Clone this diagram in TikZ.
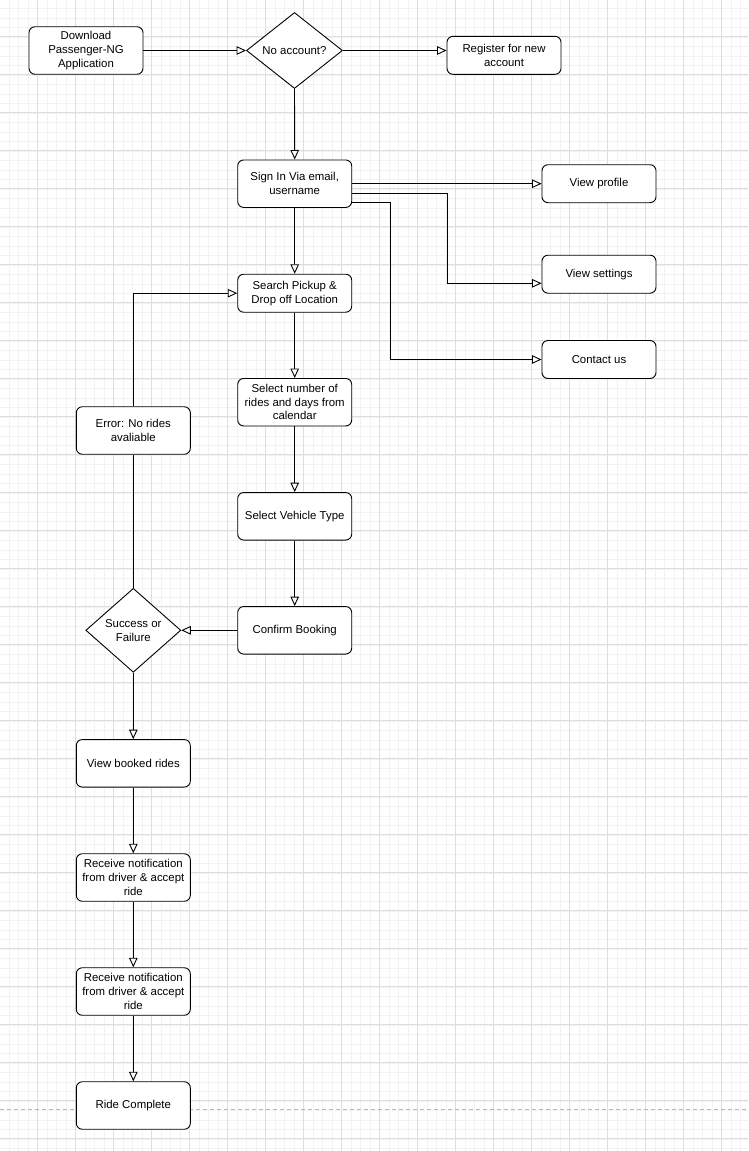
\documentclass[tikz,border=0pt]{standalone}
\usepackage{fontspec}
\setmainfont{Liberation Sans}
\usepackage{tikz}
\usetikzlibrary{positioning,arrows.meta,shapes.geometric}
\definecolor{gridminor}{HTML}{F2F2F2}
\definecolor{gridmajor}{HTML}{DEDEDE}
\definecolor{pagebreak}{HTML}{B8B8B8}

\begin{document}
\begin{tikzpicture}[
    x=1pt, y=-1pt,
    every node/.style={font=\fontsize{11.4}{13.7}\selectfont, align=center},
    box/.style={draw, fill=white, rounded corners=6pt, line width=0.9pt,
                minimum width=114pt, minimum height=38pt, inner sep=2pt},
    tall/.style={box, minimum height=47.5pt},
    dec/.style={draw, fill=white, diamond, line width=0.9pt, inner sep=0pt},
    arr/.style={line width=0.9pt, -{Triangle[length=9.5pt, width=8.5pt, fill=white]}},
    ln/.style={line width=0.9pt},
    minorl/.style={gridminor, line width=0.6pt},
    majorl/.style={gridmajor, line width=0.8pt}
  ]

  \useasboundingbox (0,0) rectangle (748,1151);
  \clip (0,0) rectangle (748,1151);

  % ---- grille de fond ----------------------------------------------------
  \fill[white] (0,0) rectangle (748,1151);
  \foreach \k in {-3,...,75} {
    \draw[minorl] ({37.4+9.5*\k},0) -- ({37.4+9.5*\k},1151);
  }
  \foreach \k in {-3,...,117} {
    \draw[minorl] (0,{36.8+9.5*\k}) -- (748,{36.8+9.5*\k});
  }
  \foreach \k in {0,...,18} {
    \draw[majorl] ({37.4+38*\k},0) -- ({37.4+38*\k},1151);
  }
  \foreach \k in {-1,...,29} {
    \draw[majorl] (0,{36.8+38*\k}) -- (748,{36.8+38*\k});
  }
  \draw[pagebreak, line width=0.8pt, dash pattern=on 4pt off 3pt] (0,1109) -- (748,1109);

  % ---- ligne du haut -----------------------------------------------------
  \node[tall] (download) at (86,50.5) {Download\\Passenger-NG\\Application};
  \node[dec, minimum width=96pt, minimum height=76pt] (noacc) at (294.5,50.5) {No account?};
  \node[box] (register) at (504,55.3) {Register for new\\account};

  % ---- colonne principale ------------------------------------------------
  \node[tall] (signin) at (294.7,183.7) {Sign In Via email,\\username};
  \node[box] (search) at (294.7,293.2) {Search Pickup \&\\Drop off Location};
  \node[tall] (selnum) at (294.7,402.2) {Select number of\\rides and days from\\calendar};
  \node[tall] (vehicle) at (294.7,516.3) {Select Vehicle Type};
  \node[tall] (confirm) at (294.7,630.3) {Confirm Booking};

  % ---- menu a droite -----------------------------------------------------
  \node[box] (profile) at (599,183.7) {View profile};
  \node[box] (settings) at (599,274.2) {View settings};
  \node[box] (contact) at (599,359.5) {Contact us};

  % ---- colonne de gauche -------------------------------------------------
  \node[tall] (error) at (133.3,430.5) {Error: No rides\\avaliable};
  \node[dec, minimum width=95pt, minimum height=84pt] (result) at (133.3,630.3) {Success or\\Failure};
  \node[tall] (booked) at (133.3,763.3) {View booked rides};
  \node[tall] (notifa) at (133.3,877.5) {Receive notification\\from driver \& accept\\ride};
  \node[tall] (notifb) at (133.3,991.5) {Receive notification\\from driver \& accept\\ride};
  \node[tall] (done) at (133.3,1105.5) {Ride Complete};

  % ---- connexions --------------------------------------------------------
  \coordinate (menub) at (352,193.3);
  \coordinate (menuc) at (352,202.7);
  \draw[arr] (download.east) -- (noacc.west);
  \draw[arr] (noacc.east) -- (register.west |- noacc.east);
  \draw[arr] (noacc.south) -- (signin.north);
  \draw[arr] (signin.east) -- (profile.west);
  \draw[arr] (menub) -- (447.3,193.3) |- ([yshift=-9.1pt]settings.west);
  \draw[arr] (menuc) -- (390,202.7) |- (contact.west);
  \draw[arr] (signin.south) -- (search.north);
  \draw[arr] (search.south) -- (selnum.north);
  \draw[arr] (selnum.south) -- (vehicle.north);
  \draw[arr] (vehicle.south) -- (confirm.north);
  \draw[arr] (confirm.west) -- (result.east);
  \draw[ln] (result.north) -- (error.south);
  \draw[arr] (error.north) |- (search.west);
  \draw[arr] (result.south) -- (booked.north);
  \draw[arr] (booked.south) -- (notifa.north);
  \draw[arr] (notifa.south) -- (notifb.north);
  \draw[arr] (notifb.south) -- (done.north);

\end{tikzpicture}
\end{document}
